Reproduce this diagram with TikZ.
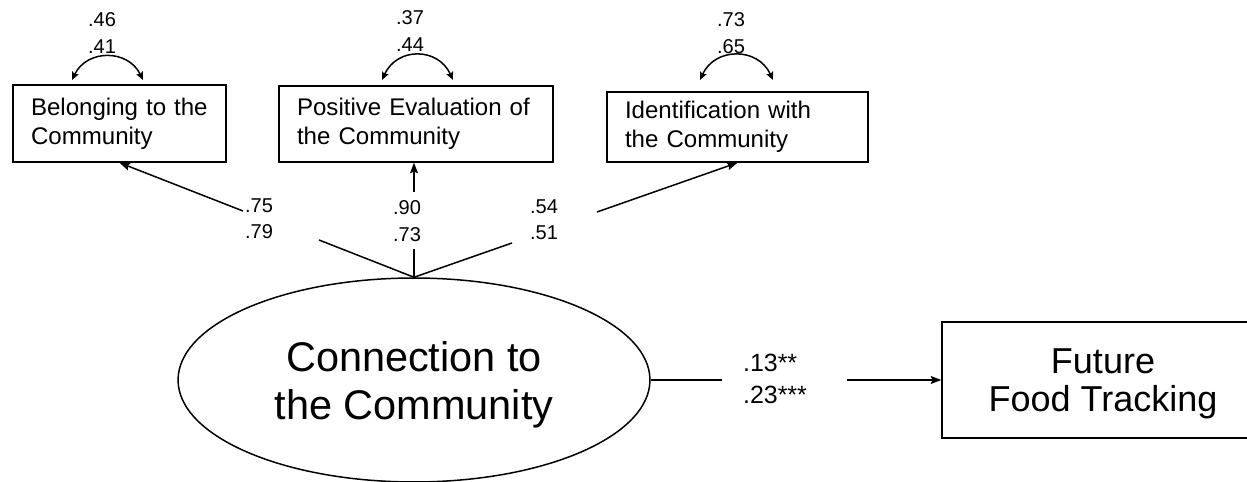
\documentclass[tikz,border=0pt]{standalone}
\usepackage{fontspec}
\setmainfont{Liberation Sans}
\usetikzlibrary{shapes.geometric,arrows.meta}

\begin{document}
\begin{tikzpicture}[x=0.02cm, y=-0.02cm, line width=0.85pt,
  >={Stealth[length=6pt,width=4.5pt,inset=1pt]},
  indbox/.style={draw, rectangle, align=left, inner xsep=0.36cm, inner ysep=0pt,
    font=\fontsize{13.7}{16.5}\selectfont},
  coef/.style={align=center, inner sep=0pt, font=\fontsize{11.4}{15}\selectfont},
  errarrow/.style={{Stealth[length=4.5pt,width=4pt,inset=0.8pt]}-{Stealth[length=4.5pt,width=4pt,inset=0.8pt]}}]

\clip (0,0) rectangle (1247,482);

%------------------ INDICATORS ------------------%
\node[indbox, text width=3.54cm, minimum height=1.54cm] (b1) at (119.5,123.5)
  {Belonging to the\\Community};
\node[indbox, text width=4.76cm, minimum height=1.52cm] (b2) at (416,124)
  {Positive Evaluation of\\the Community};
\node[indbox, text width=4.5cm, minimum height=1.40cm] (b3) at (737.5,127)
  {Identification with\\the Community};

% residual variances
\node[coef] (v1) at (102,33) {.46\\.41};
\node[coef] (v2) at (410,31) {.37\\.44};
\node[coef] (v3) at (731,33) {.73\\.65};

\coordinate (v1l) at (72,80);  \coordinate (v1r) at (143,80);
\coordinate (v2l) at (382,80); \coordinate (v2r) at (453,80);
\coordinate (v3l) at (700,80); \coordinate (v3r) at (773,80);

\draw[errarrow] (v1l) .. controls +(15,-31) and +(-15,-31) .. (v1r);
\draw[errarrow] (v2l) .. controls +(15,-33) and +(-15,-33) .. (v2r);
\draw[errarrow] (v3l) .. controls +(15,-33) and +(-15,-33) .. (v3r);

%------------------ LATENT FACTOR ------------------%
\node[draw, ellipse, minimum width=9.44cm, minimum height=4.08cm, inner sep=0pt,
  align=center, text depth=0pt, font=\fontsize{23.6}{27.3}\selectfont] (conn) at (414,380)
  {Connection to\\the Community};

% loadings
\coordinate (l1a) at (319,240); \coordinate (l1b) at (243,211);
\coordinate (l2a) at (414,249); \coordinate (l2b) at (414,192);
\coordinate (l3a) at (512,243); \coordinate (l3b) at (597,212);

\draw (conn.north) -- (l1a);
\draw[->] (l1b) -- (b1.south);
\draw (conn.north) -- (l2a);
\draw[->] (l2b) -- (l2b |- b2.south);
\draw (conn.north) -- (l3a);
\draw[->] (l3b) -- (b3.south);

\node[coef] (c1) at (259,219) {.75\\.79};
\node[coef] (c2) at (407,221) {.90\\.73};
\node[coef] (c3) at (544,220) {.54\\.51};

%------------------ OUTCOME ------------------%
\node[draw, rectangle, minimum width=6.44cm, minimum height=2.32cm, align=center,
  text depth=0pt, font=\fontsize{20.5}{21.6}\selectfont] (fft) at (1103,380) {Future\\Food Tracking};

\coordinate (p1) at (722,380); \coordinate (p2) at (847,380);
\draw (conn.east) -- (p1);
\draw[->] (p2) -- (fft.west);

\node[align=left, inner sep=0pt, font=\fontsize{14.2}{18.2}\selectfont] (c4) at (775,379)
  {.13**\\.23***};

\end{tikzpicture}
\end{document}
